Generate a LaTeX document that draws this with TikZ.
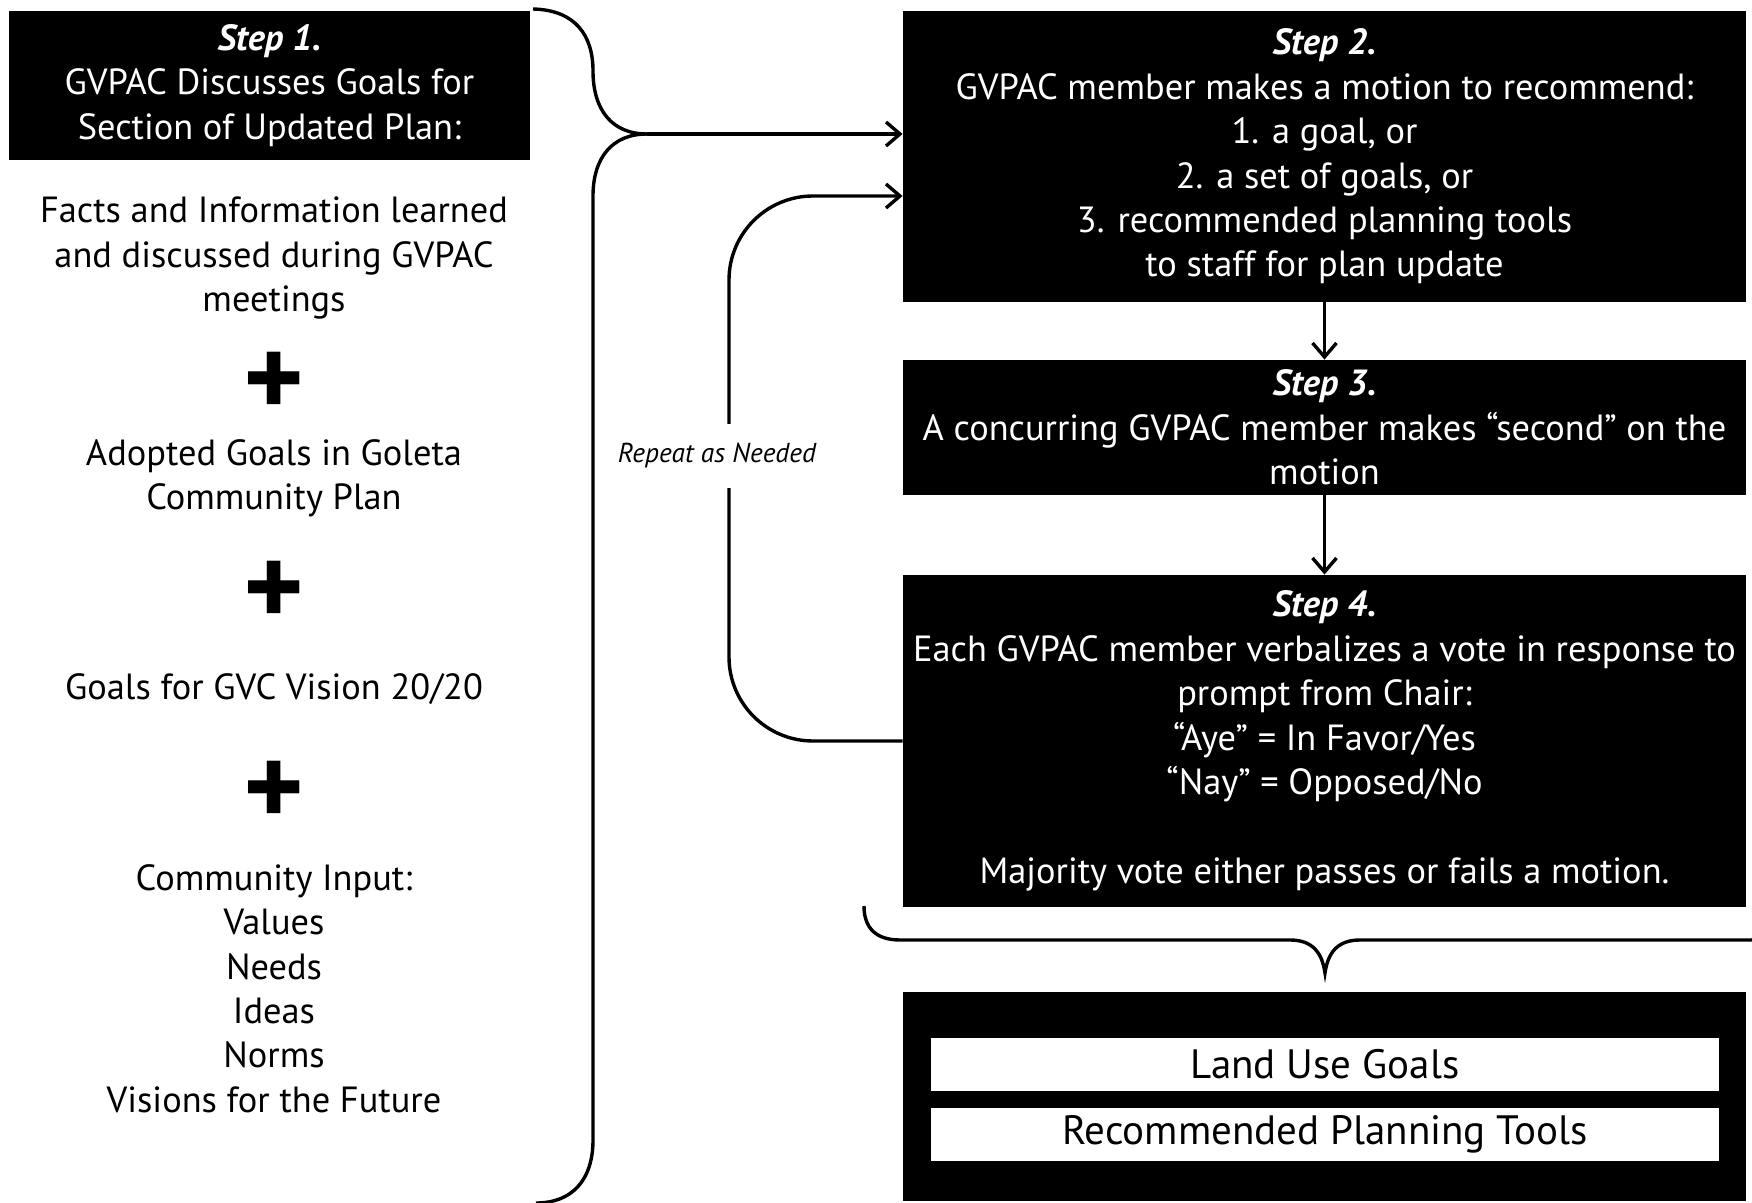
\documentclass[tikz,border=0pt]{standalone}
\usepackage{fontspec}
\setmainfont{PT Sans}
\usetikzlibrary{arrows.meta,positioning}
\tikzset{
stepbox/.style={rectangle, fill=black, text=white, text centered, align=center, inner sep=0pt, font=\fontsize{18.2}{22.2}\selectfont},
listbox/.style={rectangle, fill=white, text=black, text centered, inner sep=0pt, minimum width=394pt, minimum height=26.5pt, font=\fontsize{20.5}{22.2}\selectfont},
info/.style={align=center, inner sep=0pt, font=\fontsize{18.2}{22.2}\selectfont},
plus/.style={inner sep=0pt, text height=37pt, text depth=0pt, font=\fontsize{58}{58}\selectfont\bfseries},
line/.style={draw, line width=1.7pt, -{Straight Barb[length=7pt,width=12pt]}},
brace/.style={draw, line width=1.7pt}
}

\begin{document}
\begin{tikzpicture}[x=0.5pt, y=-0.5pt]
    \useasboundingbox (0,0) rectangle (1752,1203);
    \clip (0,0) rectangle (1752,1203);
    % Place nodes
    \node [stepbox, minimum width=260.5pt, minimum height=74.5pt] (step1) at (269.5,85.5) {\textbf{\textit{Step 1.}}\\GVPAC Discusses Goals for\\Section of Updated Plan:};
    \node [info] (facts) at (274,258) {Facts and Information learned\\and discussed during GVPAC\\meetings};
    \node [plus] (plusa) at (274,381) {+};
    \node [info] (adopted) at (274,478) {Adopted Goals in Goleta\\Community Plan};
    \node [plus] (plusb) at (274,589) {+};
    \node [info] (vision) at (274,689) {Goals for GVC Vision 20/20};
    \node [plus] (plusc) at (274,789) {+};
    \node [info] (input) at (274,988.5) {Community Input:\\Values\\Needs\\Ideas\\Norms\\Visions for the Future};
    \node [stepbox, minimum width=421.5pt, minimum height=145.5pt] (step2) at (1324.5,156.5) {\textbf{\textit{Step 2.}}\\GVPAC member makes a motion to recommend:\\1. a goal, or\\2. a set of goals, or\\3. recommended planning tools\\to staff for plan update};
    \node [stepbox, minimum width=421.5pt, minimum height=67.5pt] (step3) at (1324.5,427.5) {\textbf{\textit{Step 3.}}\\A concurring GVPAC member makes “second” on the\\motion};
    \node [stepbox, minimum width=421.5pt, minimum height=166pt] (step4) at (1324.5,741) {\textbf{\textit{Step 4.}}\\Each GVPAC member verbalizes a vote in response to\\prompt from Chair:\\“Aye” = In Favor/Yes\\“Nay” = Opposed/No\\[22.2pt]Majority vote either passes or fails a motion.};
    \node [stepbox, minimum width=421.5pt, minimum height=104.5pt] (result) at (1324.5,1096.5) {};
    \node [listbox] (landuse) at (1325,1064.5) {Land Use Goals};
    \node [listbox] (tools) at (1325,1134.5) {Recommended Planning Tools};
    % Braces
    \coordinate (bracetop) at (533,9);
    \coordinate (bracetip) at (647,134);
    \coordinate (bracebot) at (536,1203);
    \path [brace] (bracetop) .. controls (575,10) and (593,35) .. (593,71) .. controls (593,110) and (612,134) .. (bracetip);
    \path [brace] (bracetip) .. controls (612,134) and (593,158) .. (593,196) -- (593,1140) .. controls (593,1180) and (572,1203) .. (bracebot);
    \coordinate (outtip) at (1325,973);
    \path [brace] (864,906) .. controls (864,928) and (876,940) .. (900,940) -- (1290,940) .. controls (1312,940) and (1322,952) .. (outtip) .. controls (1328,952) and (1338,940) .. (1360,940) -- (1750,940) .. controls (1774,940) and (1786,928) .. (1786,906);
    % Draw edges
    \path [line] (bracetip) -- (step2.west |- bracetip);
    \path [line] (step2) -- (step3);
    \path [line] (step3) -- (step4);
    \path [line, rounded corners=42pt] (step4.west) -| (729,196) -- (step2.west |- 0,196);
    \node [fill=white, inner xsep=1pt, inner ysep=10pt, font=\fontsize{13.7}{15}\selectfont\itshape] (repeat) at (717,456) {Repeat as Needed};
\end{tikzpicture}
\end{document}
